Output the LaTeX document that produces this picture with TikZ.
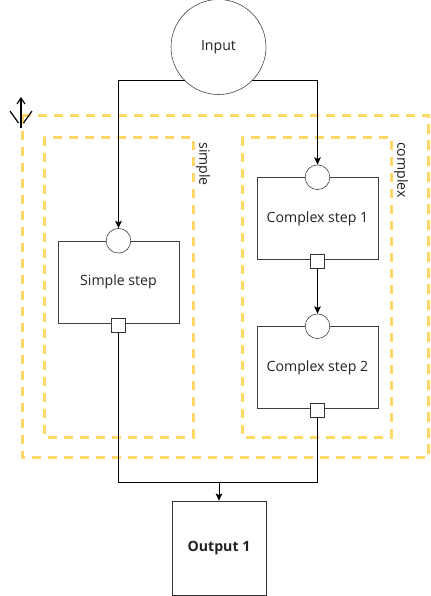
\documentclass[tikz,border=0pt]{standalone}
\usepackage{fontspec}
\setmainfont{Open Sans}
\usetikzlibrary{arrows.meta,calc}
\definecolor{dashy}{HTML}{FFD966}
\definecolor{txt}{HTML}{222222}
\begin{document}
\begin{tikzpicture}[x=0.75pt,y=-0.75pt,
  font=\fontsize{10.6pt}{12pt}\selectfont,
  lane/.style={draw=dashy,line width=2.25pt,dash pattern=on 7pt off 5pt},
  stepbox/.style={draw=black!75,fill=white,minimum width=90.75pt,minimum height=61.5pt,inner sep=0pt,text=txt},
  inport/.style={draw=black!80,fill=white,circle,minimum size=18.5pt,inner sep=0pt},
  outport/.style={draw=black!80,fill=white,rectangle,minimum size=10.5pt,inner sep=0pt},
  arr/.style={draw=black,line width=0.75pt,-{Stealth[length=5.5pt,width=5pt,inset=1.2pt]}},
  conn/.style={draw=black,line width=0.75pt},
  lbl/.style={rotate=-90,anchor=west,inner sep=0pt,text=txt}
]
\useasboundingbox (0,0) rectangle (430,596);
% dashed containers
\draw[lane] (22,115) rectangle (428.7,457);
\draw[lane] (44,137) rectangle (193,437);
\draw[lane] (242,137) rectangle (391,437);
\node[lbl] (lsimple) at (203,142) {simple};
\node[lbl] (lcomplex) at (401,142) {complex};
% nodes
\node[draw=black!80,circle,minimum size=71.25pt,inner sep=0pt,text=txt,fill=white] (inp) at (218.5,47) {Input};
\node[stepbox] (s) at (118.5,282) {Simple step};
\node[stepbox] (c1) at (317.5,218.5) {Complex step 1};
\node[stepbox] (c2) at (317.5,367.5) {Complex step 2};
\node[draw=black!80,fill=white,minimum width=70.5pt,minimum height=70.5pt,inner sep=0pt,text=txt,font=\fontsize{10.6pt}{12pt}\selectfont\bfseries] (out) at (219,548) {Output 1};
\node[inport] (sin) at (s.north) {};
\node[outport] (sout) at ($(s.south)+(0,2)$) {};
\node[inport] (c1in) at (c1.north) {};
\node[outport] (c1out) at ($(c1.south)+(0,1)$) {};
\node[inport] (c2in) at (c2.north) {};
\node[outport] (c2out) at ($(c2.south)+(0,1)$) {};
\coordinate (j) at (219,482);
% connectors
\draw[arr] (inp.225) -| (sin.north);
\draw[arr] (inp.315) -| (c1in.north);
\draw[arr] (c1out.south) -- (c2in.north);
\draw[conn] (sout.south) |- (j);
\draw[conn] (c2out.south) |- (j);
\draw[arr] (j) -- (out.north);
% collapse icon
\coordinate (ic) at (21,98);
\draw[black,line width=0.9pt] (ic) -- ++(0,30);
\draw[black,line width=0.9pt] ($(ic)+(-4,6)$) -- (ic) -- ($(ic)+(4,6)$);
\draw[black,line width=0.9pt] ($(ic)+(-11,13)$) -- ($(ic)+(-2.5,25)$);
\draw[black,line width=0.9pt] ($(ic)+(11,13)$) -- ($(ic)+(2.5,25)$);
\end{tikzpicture}
\end{document}
